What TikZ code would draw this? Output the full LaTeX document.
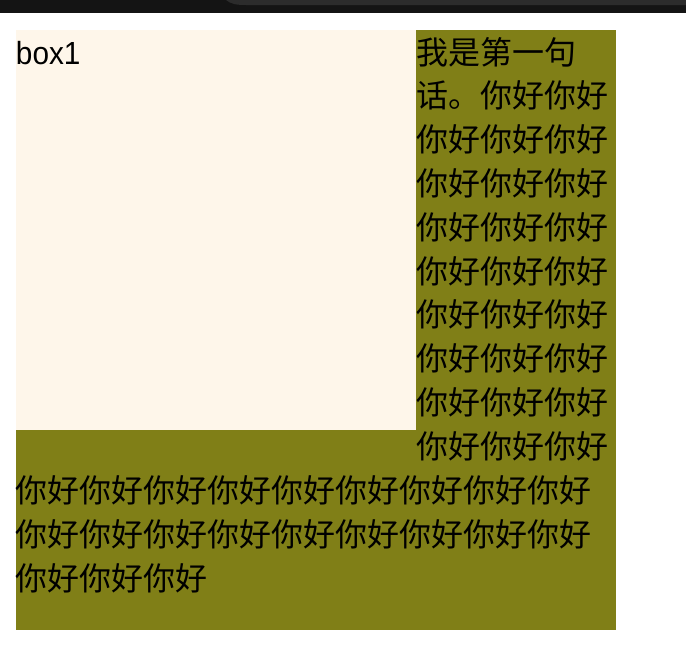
\documentclass[tikz,border=0pt]{standalone}
\usepackage{fontspec}
\newfontfamily\cjk{Noto Sans CJK SC}
\newfontfamily\latinsans[FakeStretch=0.93]{Liberation Sans}
\definecolor{olivebg}{RGB}{128,127,23}
\definecolor{creambg}{RGB}{254,246,234}
\definecolor{barbg}{RGB}{20,20,20}
\definecolor{tabbg}{RGB}{44,44,44}
\begin{document}
\begin{tikzpicture}[x=1pt,y=-1pt,
  txt/.style={anchor=base west, inner sep=0pt, outer sep=0pt, font=\cjk\fontsize{32}{40}\selectfont, text=black},
  lat/.style={anchor=base west, inner sep=0pt, outer sep=0pt, font=\latinsans\fontsize{32}{40}\selectfont, text=black}]
\useasboundingbox (0,0) rectangle (686,664);
\fill[white] (0,0) rectangle (686,664);
\fill[barbg] (0,0) rectangle (686,13);
\fill[tabbg] (226,0) .. controls (231,4) and (236,5) .. (246,5) -- (686,5) -- (686,0) -- cycle;
\fill[olivebg] (16,30) rectangle (616,630);
\fill[creambg] (16,30) rectangle (416,430);
\node[lat] (b1) at (16,64.5) {box1};
\node[txt] (l1) at (416,64) {我是第一句};
\node[txt] (l2) at (416,107.8) {话。你好你好};
\foreach \i in {2,...,9} {
  \node[txt] (r\i) at (416,64+43.83*\i) {你好你好你好};
}
\node[txt] (l11) at (16,502.3) {你好你好你好你好你好你好你好你好你好};
\node[txt] (l12) at (16,546.1) {你好你好你好你好你好你好你好你好你好};
\node[txt] (l13) at (16,590) {你好你好你好};
\end{tikzpicture}
\end{document}
